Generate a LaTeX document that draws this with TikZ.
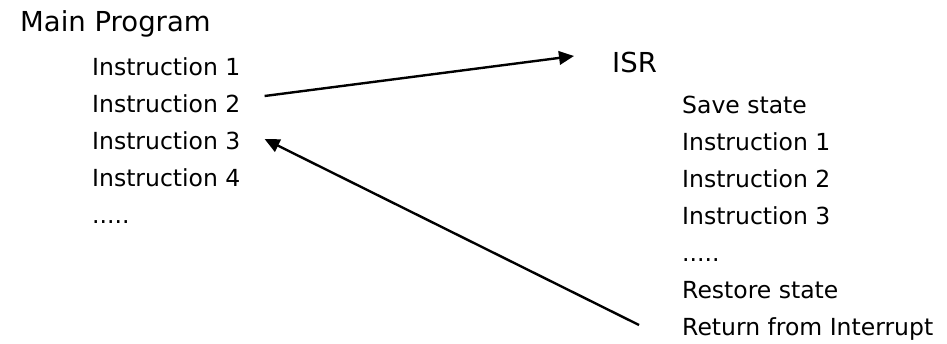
\documentclass[tikz,border=0pt]{standalone}
\usepackage{fontspec}
\setmainfont{DejaVu Sans}
\usetikzlibrary{arrows.meta}
\tikzset{
  title/.style={anchor=base west, inner sep=0pt, font=\fontsize{27.5}{30}\selectfont},
  line/.style={anchor=base west, inner sep=0pt, font=\fontsize{23.5}{26}\selectfont},
  jump/.style={line width=2.4pt, -{Triangle[length=15pt,width=13.5pt]}}
}
\begin{document}
\begin{tikzpicture}[x=1pt,y=-1pt]
  \useasboundingbox (0,0) rectangle (947,343);
  % main program
  \node[title] (main) at (20,31) {Main Program};
  \node[line] (l1) at (92,75)  {Instruction 1};
  \node[line] (l2) at (92,112) {Instruction 2};
  \node[line] (l3) at (92,149) {Instruction 3};
  \node[line] (l4) at (92,186) {Instruction 4};
  \node[line] (l5) at (92,223) {.....};
  % interrupt service routine
  \node[title] (isr) at (612,72) {ISR};
  \node[line] (r1) at (682,113) {Save state};
  \node[line] (r2) at (682,150) {Instruction 1};
  \node[line] (r3) at (682,187) {Instruction 2};
  \node[line] (r4) at (682,224) {Instruction 3};
  \node[line] (r5) at (682,261) {.....};
  \node[line] (r6) at (682,298) {Restore state};
  \node[line] (r7) at (682,335) {Return from Interrupt};
  % jump to the ISR and back
  \draw[jump] ([xshift=24pt,yshift=16pt]l2.base east) -- ([xshift=-38pt,yshift=16pt]isr.base west);
  \draw[jump] ([xshift=-43pt,yshift=10pt]r7.base west) -- ([xshift=24pt,yshift=10pt]l3.base east);
\end{tikzpicture}
\end{document}
